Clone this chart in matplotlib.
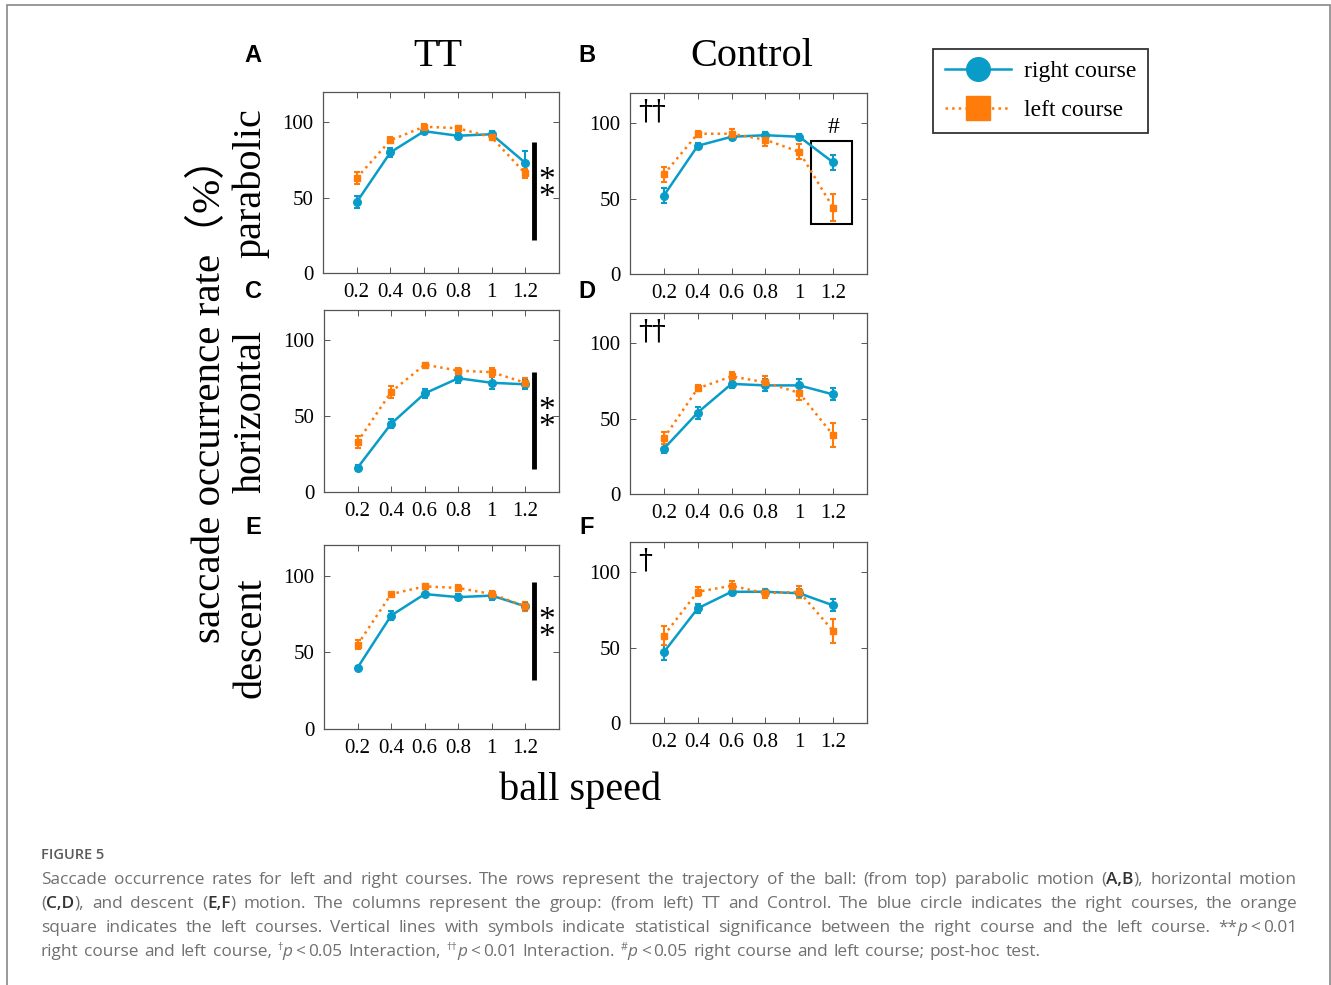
import matplotlib.pyplot as plt
from matplotlib.lines import Line2D
from matplotlib.patches import Rectangle

# ball speeds on the x axis
speeds = [0.2, 0.4, 0.6, 0.8, 1.0, 1.2]
speed_labels = ['0.2', '0.4', '0.6', '0.8', '1', '1.2']

# parabolic motion (mean %, error)
tt_par_right = [47, 80, 94, 91, 92, 73]
tt_par_right_err = [4, 3, 1, 2, 2, 8]
tt_par_left = [63, 88, 97, 96, 90, 66]
tt_par_left_err = [4, 2, 2, 1, 2, 3]
ct_par_right = [52, 85, 91, 92, 91, 74]
ct_par_right_err = [5, 2, 2, 2, 2, 5]
ct_par_left = [66, 93, 93, 89, 81, 44]
ct_par_left_err = [5, 2, 3, 4, 5, 9]

# horizontal motion
tt_hor_right = [16, 45, 65, 75, 72, 71]
tt_hor_right_err = [2, 3, 3, 3, 4, 3]
tt_hor_left = [33, 66, 84, 80, 79, 72]
tt_hor_left_err = [4, 4, 1, 2, 3, 3]
ct_hor_right = [30, 54, 73, 72, 72, 66]
ct_hor_right_err = [3, 4, 3, 4, 4, 4]
ct_hor_left = [37, 70, 78, 74, 67, 39]
ct_hor_left_err = [4, 2, 3, 4, 5, 8]

# descent motion
tt_des_right = [40, 74, 88, 86, 87, 80]
tt_des_right_err = [1, 3, 1, 2, 3, 3]
tt_des_left = [55, 88, 93, 92, 88, 80]
tt_des_left_err = [3, 1, 1, 2, 2, 3]
ct_des_right = [47, 76, 87, 87, 86, 78]
ct_des_right_err = [5, 3, 2, 2, 3, 4]
ct_des_left = [58, 87, 91, 86, 87, 61]
ct_des_left_err = [6, 3, 3, 3, 4, 8]

# significance bars (y range) for the TT panels, interaction marks for Control
tt_sig_spans = [(22, 87), (15, 79), (32, 96)]
ct_marks = ['\u2020\u2020', '\u2020\u2020', '\u2020']

BLUE = '#0a9cc8'
ORANGE = '#ff7c0a'
SERIF = 'Liberation Serif'

W, H = 1331, 985
fig = plt.figure(figsize=(W / 100, H / 100), dpi=100)


def px(x0, y0, x1, y1):
    # pixel box -> figure fraction rect
    return [x0 / W, 1 - y1 / H, (x1 - x0) / W, (y1 - y0) / H]


boxes = [
    [px(323, 92, 559, 273), px(630, 93, 867, 274)],
    [px(324, 310, 559, 492), px(630, 313, 867, 494)],
    [px(324, 545, 559, 729), px(630, 542, 867, 723)],
]

data = [
    [(tt_par_right, tt_par_right_err, tt_par_left, tt_par_left_err),
     (ct_par_right, ct_par_right_err, ct_par_left, ct_par_left_err)],
    [(tt_hor_right, tt_hor_right_err, tt_hor_left, tt_hor_left_err),
     (ct_hor_right, ct_hor_right_err, ct_hor_left, ct_hor_left_err)],
    [(tt_des_right, tt_des_right_err, tt_des_left, tt_des_left_err),
     (ct_des_right, ct_des_right_err, ct_des_left, ct_des_left_err)],
]

axes = [[None, None] for _ in range(3)]
for r in range(3):
    for c in range(2):
        ax = fig.add_axes(boxes[r][c])
        axes[r][c] = ax
        right, right_err, left, left_err = data[r][c]
        ax.errorbar(speeds, right, yerr=right_err, color=BLUE, lw=1.8,
                    marker='o', ms=5.5, capsize=2, elinewidth=1.5, capthick=1.5)
        ax.errorbar(speeds, left, yerr=left_err, color=ORANGE, lw=1.8, ls=':',
                    marker='s', ms=5, capsize=2, elinewidth=1.5, capthick=1.5)
        ax.set_xlim(0, 1.4)
        ax.set_ylim(0, 120)
        ax.set_xticks(speeds)
        ax.set_xticklabels(speed_labels)
        ax.set_yticks([0, 50, 100])
        ax.tick_params(direction='in', top=True, right=True, length=4,
                       width=0.7, color='#555555', labelsize=15, pad=7)
        for lab in ax.get_xticklabels() + ax.get_yticklabels():
            lab.set_fontfamily(SERIF)
        for sp in ax.spines.values():
            sp.set_color('#555555')
            sp.set_linewidth(0.9)

# significance bars on the TT column
for r, (lo, hi) in enumerate(tt_sig_spans):
    ax = axes[r][0]
    ax.plot([1.25, 1.25], [lo, hi], color='black', lw=3.5,
            solid_capstyle='butt', clip_on=False)
    ax.text(1.325, (lo + hi) / 2 + 1, '*\n*', fontsize=24, family=SERIF,
            linespacing=0.45, ha='center', va='center')

# interaction marks on the Control column
for r, mark in enumerate(ct_marks):
    axes[r][1].text(0.035, 0.97, mark, transform=axes[r][1].transAxes,
                    fontsize=20, family=['DejaVu Serif'], ha='left', va='top')

# post-hoc box at the fastest speed (parabolic, Control)
axb = axes[0][1]
axb.add_patch(Rectangle((1.07, 33), 0.24, 55, fill=False, lw=1.5,
                        edgecolor='black', clip_on=False))
axb.text(1.2, 90, '#', fontsize=17, family=SERIF, ha='center', va='bottom')

# column titles and panel letters
fig.text(438 / W, 1 - 57 / H, 'TT', fontsize=29, family=SERIF,
         ha='center', va='center')
fig.text(752 / W, 1 - 57 / H, 'Control', fontsize=29, family=SERIF,
         ha='center', va='center')
for letter, (x, y) in zip('ABCDEF', [(253, 56), (587, 56), (253, 292),
                                     (587, 292), (253, 528), (587, 528)]):
    fig.text(x / W, 1 - y / H, letter, fontsize=17, weight='bold',
             family='Liberation Sans', ha='center', va='center')

# axis titles
fig.text(210 / W, 1 - 390 / H, 'saccade occurrence rate\uff08%\uff09',
         fontsize=29.5, family=[SERIF, 'Noto Sans CJK JP'], rotation=90,
         ha='center', va='center')
for label, y in [('parabolic', 183), ('horizontal', 411), ('descent', 638)]:
    fig.text(251 / W, 1 - y / H, label, fontsize=29, family=SERIF,
             rotation=90, ha='center', va='center')
fig.text(580 / W, 1 - 790 / H, 'ball speed', fontsize=29, family=SERIF,
         ha='center', va='center')

# legend
handles = [
    Line2D([], [], color=BLUE, lw=1.8, marker='o', ms=17),
    Line2D([], [], color=ORANGE, lw=1.8, ls=':', marker='s', ms=17),
]
leg = fig.legend(handles, ['right course', 'left course'], loc='upper left',
                 bbox_to_anchor=(933 / W, 1 - 49 / H), borderaxespad=0,
                 frameon=True, fancybox=False, edgecolor='black',
                 handlelength=2.8, borderpad=0.5, labelspacing=0.72,
                 handletextpad=0.55, prop={'family': SERIF, 'size': 17})
leg.get_frame().set_linewidth(1.3)

# outer frame
fig.add_artist(Rectangle((7 / W, -0.01), (1330 - 7) / W, 1.01 - 5 / H,
                         transform=fig.transFigure, fill=False,
                         edgecolor='#888888', lw=1.2))

# caption
CAP = '#707070'
CAP_FONT = 'Open Sans'
CAP_SIZE = 12.4
fig.text(41 / W, 1 - 855 / H, 'FIGURE 5', fontsize=10.5, family=CAP_FONT,
         weight='semibold', color='#5a5a5a', ha='left', va='center')

GAP = ('', 'g')
caption_lines = [
    ("Saccade occurrence rates for left and right courses. The rows represent "
     "the trajectory of the ball: (from top) parabolic motion",
     [('(', ''), ('A,B', 'b'), ('),', '')], "horizontal motion"),
    ([('(', ''), ('C,D', 'b'), ('),', '')], "and descent",
     [('(', ''), ('E,F', 'b'), (')', '')],
     "motion. The columns represent the group: (from left) TT and Control. "
     "The blue circle indicates the right courses, the orange"),
    ("square indicates the left courses. Vertical lines with symbols indicate "
     "statistical significance between the right course and the left course.",
     [('**', ''), ('p', 'i'), GAP, ('<', ''), GAP, ('0.01', '')]),
    ("right course and left course,",
     [('\u2020', 's'), ('p', 'i'), GAP, ('<', ''), GAP, ('0.05', '')],
     "Interaction,",
     [('\u2020\u2020', 's'), ('p', 'i'), GAP, ('<', ''), GAP, ('0.01', '')],
     "Interaction.",
     [('#', 's'), ('p', 'i'), GAP, ('<', ''), GAP, ('0.05', '')],
     "right course and left course; post-hoc test."),
]

renderer = fig.canvas.get_renderer()


def text_kw(style):
    kw = dict(fontsize=CAP_SIZE, family=CAP_FONT, color=CAP, ha='left',
              va='baseline')
    if style == 'b':
        kw['weight'] = 'semibold'
        kw['color'] = '#333333'
    elif style == 'i':
        kw['style'] = 'italic'
    elif style == 's':
        kw['fontsize'] = CAP_SIZE * 0.62
    return kw


def width_of(text, style):
    if style == 'g':
        return 3.0
    t = fig.text(0, 0, text, **text_kw(style))
    w = t.get_window_extent(renderer).width
    t.remove()
    return w


natural_space = width_of('a b', '') - 2 * width_of('a', '')
x_left, x_right = 41, 1297
for i, line in enumerate(caption_lines):
    words = []
    for part in line:
        if isinstance(part, str):
            words += [[(w, '')] for w in part.split()]
        else:
            words.append(part)
    built = []
    for w in words:
        pieces = [(txt, st, width_of(txt, st)) for txt, st in w]
        built.append((pieces, sum(p[2] for p in pieces)))
    total = sum(b[1] for b in built)
    space = natural_space
    if i < len(caption_lines) - 1:
        space = (x_right - x_left - total) / (len(built) - 1)
    y = 1 - (884 + 24 * i) / H
    x = x_left
    for pieces, width in built:
        xx = x
        for txt, st, pw in pieces:
            if st != 'g':
                fig.text(xx / W, y + (6 / H if st == 's' else 0), txt,
                         **text_kw(st))
            xx += pw
        x += width + space

fig.savefig('out.png', dpi=100)
